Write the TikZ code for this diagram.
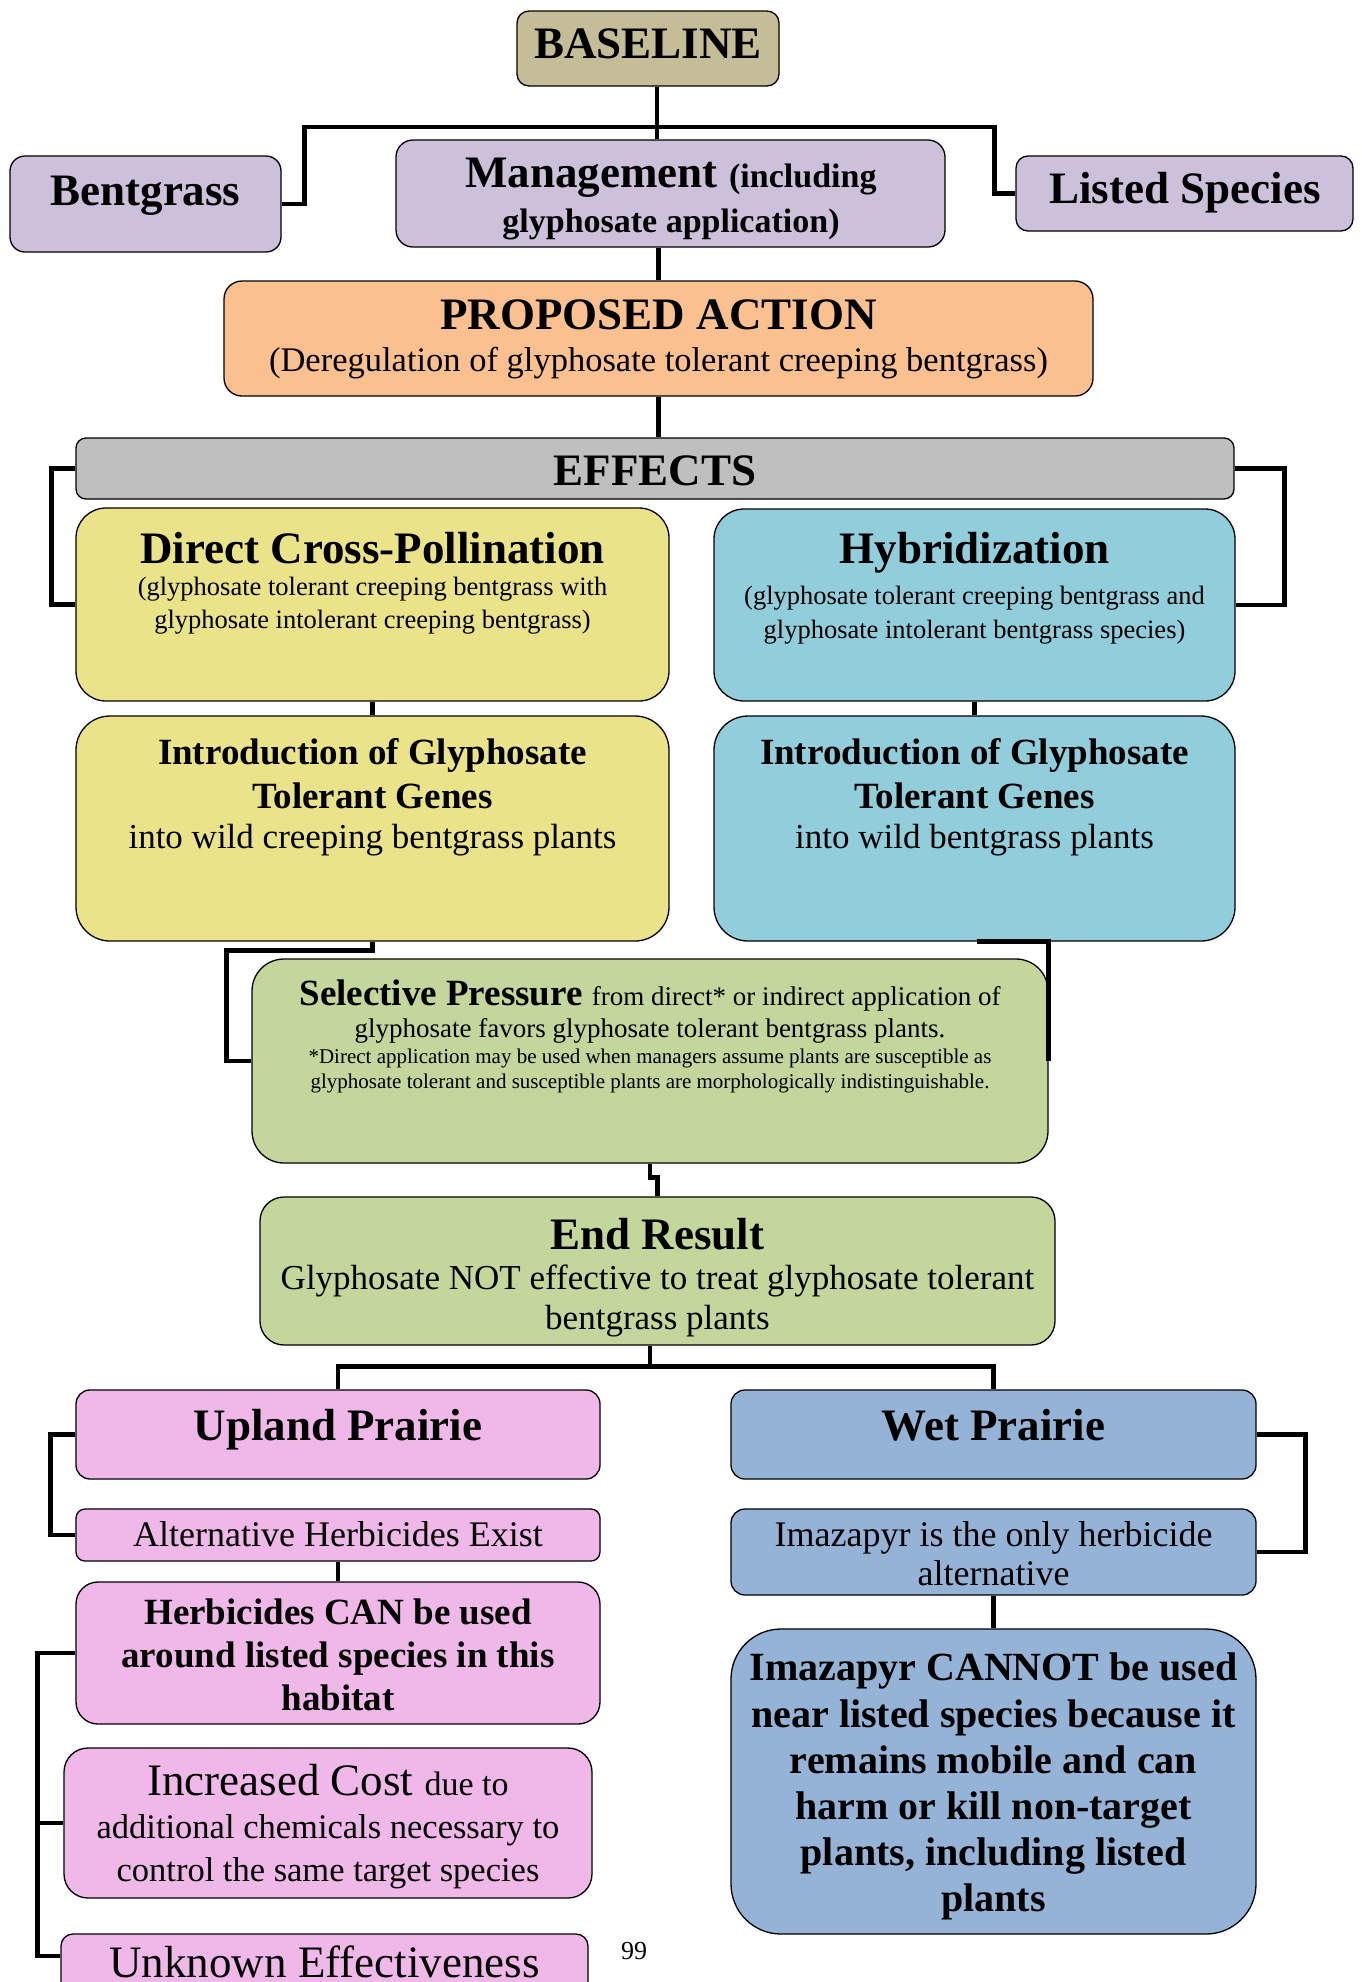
\documentclass[tikz,border=0pt]{standalone}
\usepackage{fontspec}
\setmainfont{Liberation Serif}
\usepackage{tikz}
\newcommand{\fsz}[2]{\fontsize{#1}{#2}\selectfont}
\definecolor{tanbox}{HTML}{C4BD97}
\definecolor{lilacbox}{HTML}{CCC0DA}
\definecolor{peachbox}{HTML}{FAC090}
\definecolor{greybox}{HTML}{BFBFBF}
\definecolor{yellowbox}{HTML}{EAE389}
\definecolor{cyanbox}{HTML}{92CDDC}
\definecolor{greenbox}{HTML}{C3D69B}
\definecolor{pinkbox}{HTML}{EFB8E8}
\definecolor{bluebox}{HTML}{95B3D7}

\begin{document}
\begin{tikzpicture}[x=1pt, y=-1pt,
      block/.style ={draw=black, line width=1.3pt, inner sep=0pt, rounded corners=#1},
      block/.default=12pt,
      title/.style ={inner sep=0pt, anchor=base, font=\bfseries\fsz{45}{50}},
      words/.style ={inner sep=0pt, anchor=north, align=center},
      link/.style ={draw=black, line width=4.5pt}
    ]
    \useasboundingbox (0,0) rectangle (1362,1982) ;

    \node [block=12pt, fill=tanbox, minimum width=262pt, minimum height=75pt] (baseline) at (648,48.5) {} ;
    \node [block=15pt, fill=lilacbox, minimum width=271pt, minimum height=96pt] (bent) at (145.5,204) {} ;
    \node [block=17pt, fill=lilacbox, minimum width=549pt, minimum height=107pt] (mgmt) at (670.5,193.5) {} ;
    \node [block=12pt, fill=lilacbox, minimum width=337pt, minimum height=75pt] (listed) at (1184.5,193.5) {} ;
    \node [block=18pt, fill=peachbox, minimum width=869pt, minimum height=115pt] (action) at (658.5,338.5) {} ;
    \node [block=10pt, fill=greybox, minimum width=1158pt, minimum height=61pt] (effects) at (655,468.5) {} ;
    \node [block=30pt, fill=yellowbox, minimum width=593pt, minimum height=193pt] (direct) at (372.5,604.5) {} ;
    \node [block=30pt, fill=cyanbox, minimum width=521pt, minimum height=192pt] (hybrid) at (974.5,605) {} ;
    \node [block=34pt, fill=yellowbox, minimum width=593pt, minimum height=225pt] (introL) at (372.5,828.5) {} ;
    \node [block=34pt, fill=cyanbox, minimum width=521pt, minimum height=225pt] (introR) at (974.5,828.5) {} ;
    \node [block=32pt, fill=greenbox, minimum width=796pt, minimum height=204pt] (select) at (650,1061) {} ;
    \node [block=24pt, fill=greenbox, minimum width=795pt, minimum height=148pt] (result) at (657.5,1271) {} ;
    \node [block=14pt, fill=pinkbox, minimum width=524pt, minimum height=89pt] (upland) at (338,1434.5) {} ;
    \node [block=9pt, fill=pinkbox, minimum width=524pt, minimum height=52pt] (altern) at (338,1535) {} ;
    \node [block=22pt, fill=pinkbox, minimum width=524pt, minimum height=142pt] (canuse) at (338,1653) {} ;
    \node [block=24pt, fill=pinkbox, minimum width=528pt, minimum height=150pt] (cost) at (328,1823) {} ;
    \node [block=12pt, fill=pinkbox, minimum width=527pt, minimum height=78pt] (unknown) at (324.5,1973) {} ;
    \node [block=14pt, fill=bluebox, minimum width=525pt, minimum height=89pt] (wet) at (993.5,1434.5) {} ;
    \node [block=14pt, fill=bluebox, minimum width=525pt, minimum height=86pt] (imaz) at (993.5,1552) {} ;
    \node [block=50pt, fill=bluebox, minimum width=525pt, minimum height=305pt] (cannot) at (993.5,1781.5) {} ;

    \node [title] (tBase) at (648,58) {BASELINE} ;
    \node [title] (tBent) at (145.5,205) {Bentgrass} ;
    \node [title] (tListed) at (1185,203) {Listed Species} ;
    \node [words, font=\bfseries\fsz{34}{45}] (tMgmt) at (671,157.6) {\fsz{45}{45}Management \fsz{34}{45}(including\\glyphosate application)} ;
    \node [words, font=\fsz{34.5}{42}] (tAction) at (658.5,299.6) {\fsz{45}{42}\bfseries PROPOSED ACTION\\(Deregulation of glyphosate tolerant creeping bentgrass)} ;
    \node [title] (tEffects) at (655,485) {EFFECTS} ;
    \node [words, font=\fsz{26.5}{32.5}] (tDirect) at (372.5,531.6) {\fsz{45}{32.5}\bfseries Direct Cross-Pollination\\(glyphosate tolerant creeping bentgrass with\\glyphosate intolerant creeping bentgrass)} ;
    \node [words, font=\fsz{26.5}{34}] (tHybrid) at (974.5,531.6) {\fsz{45}{34}\bfseries Hybridization\\[7pt](glyphosate tolerant creeping bentgrass and\\glyphosate intolerant bentgrass species)} ;
    \node [words, font=\fsz{35}{40}] (tIntroL) at (372.5,738) {\fsz{37}{40}\bfseries Introduction of Glyphosate\\[4pt]\fsz{37}{40}\bfseries Tolerant Genes\\into wild creeping bentgrass plants} ;
    \node [words, font=\fsz{35}{40}] (tIntroR) at (974.5,738) {\fsz{37}{40}\bfseries Introduction of Glyphosate\\[4pt]\fsz{37}{40}\bfseries Tolerant Genes\\into wild bentgrass plants} ;
    \node [words, font=\fsz{21}{25}] (tSelect) at (650,980) {\fsz{37}{25}\textbf{Selective Pressure} \fsz{27}{25}from direct* or indirect application of\\[7pt]\fsz{27}{25}glyphosate favors glyphosate tolerant bentgrass plants.\\[1pt]*Direct application may be used when managers assume plants are susceptible as\\glyphosate tolerant and susceptible plants are morphologically indistinguishable.} ;
    \node [words, font=\fsz{35}{40}] (tResult) at (657.5,1217.6) {\fsz{45}{40}\bfseries End Result\\Glyphosate NOT effective to treat glyphosate tolerant\\bentgrass plants} ;
    \node [title] (tUpland) at (338,1440) {Upland Prairie} ;
    \node [title, font=\fsz{36}{40}] (tAltern) at (338,1546) {Alternative Herbicides Exist} ;
    \node [words, font=\bfseries\fsz{37}{43}] (tCanuse) at (338,1599) {Herbicides CAN be used\\around listed species in this\\habitat} ;
    \node [words, font=\fsz{34.5}{43}] (tCost) at (328,1764.3) {\fsz{45}{43}Increased Cost \fsz{34}{43}due to\\additional chemicals necessary to\\control the same target species} ;
    \node [title, font=\fsz{45}{50}] (tUnknown) at (324.5,1977) {Unknown Effectiveness} ;
    \node [title] (tWet) at (993.5,1440) {Wet Prairie} ;
    \node [words, font=\fsz{36}{39}] (tImaz) at (993.5,1521.4) {Imazapyr is the only herbicide\\alternative} ;
    \node [words, font=\bfseries\fsz{40}{46.2}] (tCannot) at (993.5,1653) {Imazapyr CANNOT be used\\near listed species because it\\remains mobile and can\\harm or kill non-target\\plants, including listed\\plants} ;
    \node [title, font=\fsz{26}{30}] (page) at (634,1959) {99} ;

    \coordinate (bus) at (657,127) ;
    \draw [link] ([xshift=9pt]baseline.south) -- ([xshift=-13.5pt]mgmt.north) ;
    \draw [link] (bent.east) -- ++(23,0) |- (bus) -| ([xshift=-21pt]listed.west) -- (listed.west) ;
    \draw [link] (mgmt.south -| action.north) -- (action.north) ;
    \draw [link] (action.south) -- (action.south |- effects.north) ;
    \draw [link] (effects.west) -- ++(-24,0) |- (direct.west) ;
    \draw [link] (effects.east) -- ++(50,0) |- (hybrid.east) ;
    \draw [link] (direct.south) -- (introL.north) ;
    \draw [link] (hybrid.south) -- (introR.north) ;
    \draw [link] (introL.south) -- ++(0,9) -| ([xshift=-25pt]select.west) -- (select.west) ;
    \draw [link] ([xshift=2.5pt]introR.south) -| (select.east) ;
    \draw [link] (select.south) -- ++(0,14) -| (result.north) ;
    \draw [link] ([xshift=-7.5pt]result.south) -- ++(0,21) coordinate (fork) ;
    \draw [link] (upland.north) |- (fork) -| (wet.north) ;
    \draw [link] (upland.west) -- ++(-25,0) |- (altern.west) ;
    \draw [link] (altern.south) -- (canuse.north) ;
    \draw [link] (canuse.west) -- ++(-38,0) coordinate (spine) |- ([yshift=17pt]unknown.west) ;
    \draw [link] (spine |- cost.west) -- (cost.west) ;
    \draw [link] (wet.east) -- ++(49,0) |- (imaz.east) ;
    \draw [link] (imaz.south) -- (cannot.north) ;
  \end{tikzpicture}
\end{document}
